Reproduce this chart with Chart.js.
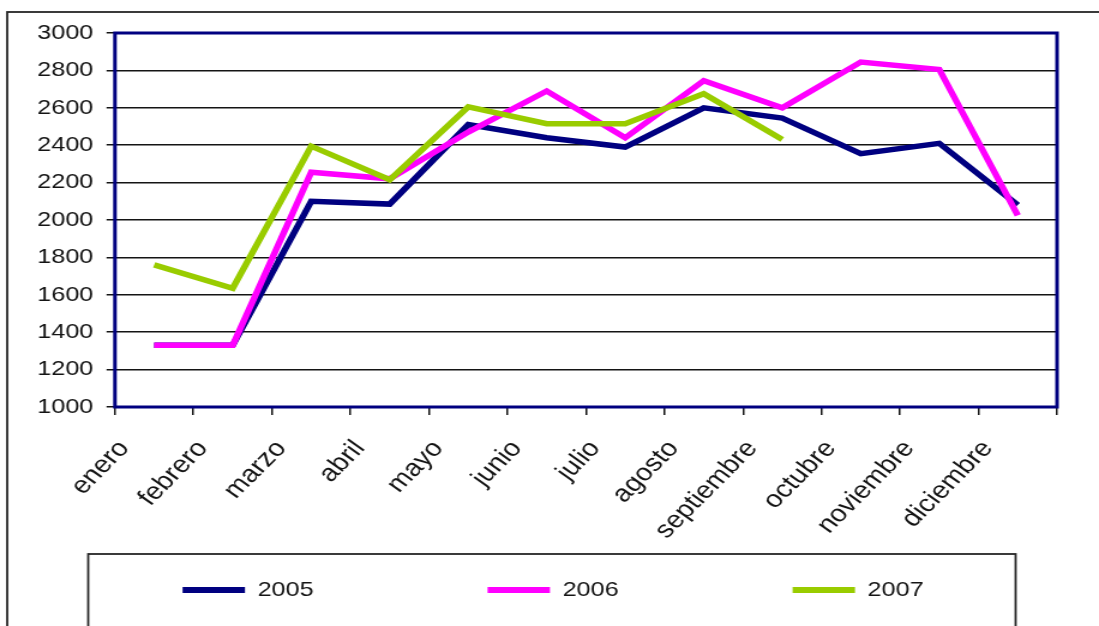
<!DOCTYPE html>
<html lang="es">
<head>
<meta charset="utf-8">
<title>Evolución mensual 2005-2007</title>
<script src="https://cdn.jsdelivr.net/npm/chart.js@4.4.1/dist/chart.umd.min.js"></script>
<style>
  html, body { margin: 0; padding: 0; background: #fff; overflow: hidden; }
</style>
</head>
<body>
<!-- the drawing surface is 916 px wide and is widened to 1099 px on screen, giving the broad lettering -->
<canvas id="grafico" width="916" height="626" style="display:block;width:1099px;height:626px"></canvas>
<script>
// ---- datos ----
const meses = ['enero', 'febrero', 'marzo', 'abril', 'mayo', 'junio', 'julio',
               'agosto', 'septiembre', 'octubre', 'noviembre', 'diciembre'];
const anios = ['2005', '2006', '2007'];
const valores2005 = [1330, 1330, 2100, 2085, 2510, 2440, 2390, 2600, 2545, 2355, 2410, 2080];
const valores2006 = [1330, 1330, 2255, 2220, 2470, 2690, 2440, 2745, 2600, 2845, 2805, 2025];
const valores2007 = [1760, 1635, 2395, 2215, 2605, 2515, 2515, 2675, 2430, null, null, null];
const ejeYMin = 1000;
const ejeYMax = 3000;
const ejeYPaso = 200;

// ---- estilo ----
const colores = ['#000080', '#ff00ff', '#99cc00'];
const tinta = '#141414';
const familia = '"Liberation Sans", Arial, sans-serif';
const fuente = { family: familia, size: 21 };
const fuenteMeses = { family: familia, size: 24 };
const PAD = { top: 33, right: 0, bottom: 15.5, left: 6 };
const AREA_LEFT = 95.8;    // left edge of the plot area
const AREA_RIGHT = 881;    // right edge of the plot area
const AREA_BOTTOM = 407;   // bottom edge of the plot area

const series = [valores2005, valores2006, valores2007];

// outer frame, legend frame and the navy border round the plot area
const marcos = {
  id: 'marcos',
  afterLayout(chart) {
    // let the rotated month names use the whole height below the axis
    chart.scales.x.bottom = chart.height;
  },
  beforeDraw(chart) {
    const ctx = chart.ctx;
    ctx.save();
    ctx.fillStyle = '#ffffff';
    ctx.fillRect(0, 0, chart.width, chart.height);
    ctx.strokeStyle = '#262626';
    ctx.lineWidth = 1.8;
    ctx.strokeRect(6, 12, chart.width + 20, chart.height + 20);
    ctx.strokeRect(73.5, 554, 773, 200);
    ctx.restore();
  },
  beforeDatasetsDraw(chart) {
    const { ctx, chartArea: a } = chart;
    ctx.save();
    ctx.strokeStyle = '#000080';
    ctx.lineWidth = 3;
    ctx.strokeRect(a.left, a.top, a.right - a.left, a.bottom - a.top);
    ctx.restore();
  }
};

new Chart(document.getElementById('grafico'), {
  type: 'line',
  data: {
    labels: meses,
    datasets: anios.map((anio, i) => ({
      label: anio,
      data: series[i],
      borderColor: colores[i],
      backgroundColor: colores[i],
      borderWidth: 5.5,
      pointRadius: 0,
      pointHoverRadius: 0,
      tension: 0,
      borderJoinStyle: 'miter',
      spanGaps: false,
      order: anios.length - i   // later years are drawn on top
    }))
  },
  options: {
    responsive: false,
    animation: false,
    events: [],
    layout: { padding: PAD },
    plugins: {
      tooltip: { enabled: false },
      title: { display: false },
      legend: {
        position: 'bottom',
        labels: {
          font: fuente,
          color: tinta,
          boxWidth: 52,
          boxHeight: 6,
          padding: 145,
          sort: (a, b) => a.datasetIndex - b.datasetIndex,
          generateLabels(chart) {
            return Chart.defaults.plugins.legend.labels.generateLabels(chart)
              .map(item => Object.assign(item, { lineWidth: 0 }));
          }
        }
      }
    },
    scales: {
      x: {
        type: 'category',
        offset: true,
        border: { display: false },
        grid: {
          offset: true,
          drawOnChartArea: false,
          drawTicks: true,
          tickLength: 8,
          color: tinta,
          lineWidth: 1.5
        },
        ticks: {
          autoSkip: false,
          minRotation: 50,
          maxRotation: 50,
          font: fuenteMeses,
          color: tinta,
          padding: 20,
          labelOffset: -25
        },
        afterFit(scale) {
          scale.height = scale.chart.height - PAD.bottom - scale.chart.legend.height - AREA_BOTTOM;
        }
      },
      y: {
        min: ejeYMin,
        max: ejeYMax,
        border: { display: false },
        grid: { color: tinta, lineWidth: 1.5, tickLength: 7 },
        ticks: {
          stepSize: ejeYPaso,
          font: fuente,
          color: tinta,
          padding: 11,
          callback: (v) => String(v)
        },
        afterFit(scale) {
          scale.width = AREA_LEFT - PAD.left;
        }
      },
      margen: {
        // empty strip on the right of the plot area
        position: 'right',
        display: true,
        grid: { display: false },
        border: { display: false },
        ticks: { display: false },
        afterFit(scale) {
          scale.width = scale.chart.width - PAD.right - AREA_RIGHT;
        }
      }
    }
  },
  plugins: [marcos]
});
</script>
</body>
</html>
